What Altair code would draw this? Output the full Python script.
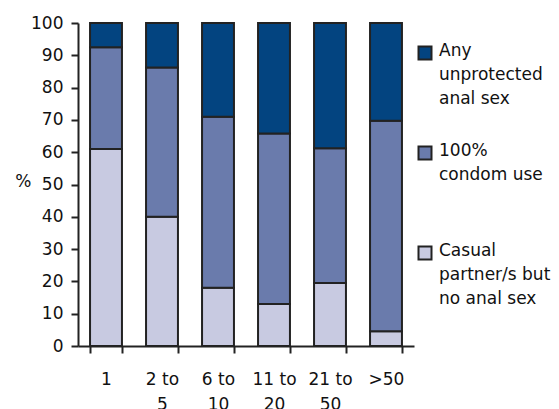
import altair as alt
import pandas as pd

categories = ["1", "2 to 5", "6 to 10", "11 to 20", "21 to 50", ">50"]
series = ["Casual partner/s but no anal sex", "100% condom use", "Any unprotected anal sex"]
casual = [61, 40, 18, 13, 19.5, 4.6]
condom = [31.5, 46.2, 53, 52.8, 41.7, 65.1]
unprotected = [7.5, 13.8, 29, 34.2, 38.8, 30.3]
legend_lines = ["Casual|partner/s but|no anal sex", "100%|condom use", "Any|unprotected|anal sex"]
colors = ["#C8CAE1", "#6A7BAC", "#034480"]

rows = []
for i, c in enumerate(categories):
    for j, (s, vals) in enumerate(zip(series, [casual, condom, unprotected])):
        rows.append({"cat": c, "series": s, "value": vals[i], "order": j})
df = pd.DataFrame(rows)
df_leg = pd.DataFrame({"series": series, "label": legend_lines})

font = "DejaVu Sans"
color_scale = alt.Scale(domain=series, range=colors)

main = alt.Chart(df).mark_bar(stroke="#222222", strokeWidth=2).encode(
    x=alt.X("cat:N", sort=categories, title=None,
            scale=alt.Scale(paddingInner=0.43, paddingOuter=0.215),
            axis=alt.Axis(labelAngle=0, tickBand="extent", tickSize=7, tickWidth=2,
                          domainWidth=2, domainColor="#222222", tickColor="#222222",
                          labelFont=font, labelFontSize=17, labelColor="#111111",
                          labelLineHeight=25, labelPadding=18,
                          labelExpr="isValid(datum.value) ? split(replace(datum.value, ' to ', ' to|'), '|') : ''")),
    y=alt.Y("value:Q", stack="zero", title="%",
            scale=alt.Scale(domain=[0, 100], nice=False),
            axis=alt.Axis(values=list(range(0, 101, 10)), tickSize=7, tickWidth=2,
                          domainWidth=2, domainColor="#222222", tickColor="#222222",
                          labelFont=font, labelFontSize=17, labelColor="#111111",
                          labelPadding=8, grid=False,
                          titleAngle=0, titleFont=font, titleFontSize=17,
                          titleFontWeight="normal", titleColor="#111111",
                          titleAlign="right", titleBaseline="middle",
                          titleX=-47, titleY=158)),
    color=alt.Color("series:N", scale=color_scale, legend=None),
    order=alt.Order("order:Q"),
).properties(width=336, height=323)

leg_base = alt.Chart(df_leg).encode(
    y=alt.Y("series:N", sort=series[::-1], axis=None,
            scale=alt.Scale(type="point", padding=0.3)),
)
squares = leg_base.mark_square(size=169, stroke="#222222", strokeWidth=2, opacity=1).encode(
    x=alt.value(8),
    color=alt.Color("series:N", scale=color_scale, legend=None),
)
texts = leg_base.mark_text(align="left", baseline="top", dy=-10, lineBreak="|",
                           lineHeight=24, font=font, fontSize=17, color="#111111").encode(
    x=alt.value(22),
    text="label:N",
)
legend = (squares + texts).properties(width=120, height=260)

chart = alt.hconcat(main, legend, spacing=0).properties(
    padding={"left": 6, "top": 6, "right": 0, "bottom": 0},
).configure(
    view={"stroke": None},
)

chart.save("out.html", embed_options={"renderer": "svg", "actions": False})
